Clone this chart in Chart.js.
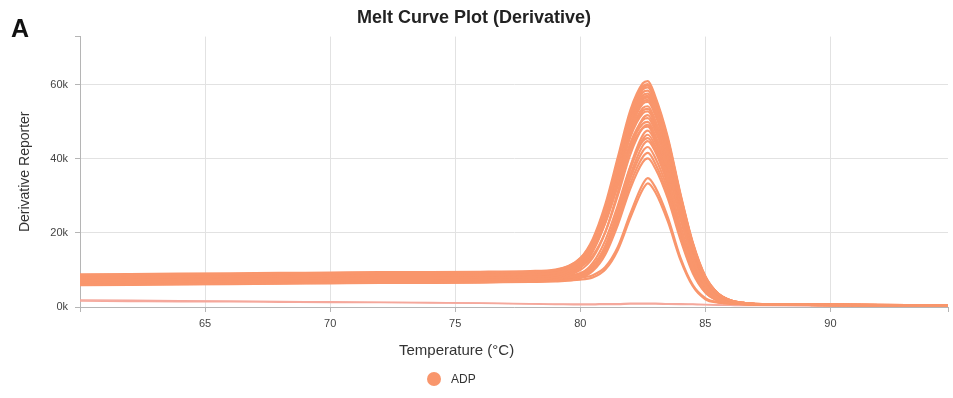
<!DOCTYPE html>
<html>
<head>
    <title>Melt Curve Plot (Derivative)</title>
    <meta charset="UTF-8">
    <style>
        body { margin: 0; background: #fff; font-family: "Liberation Sans", Arial, sans-serif; }
        .panel { position: relative; width: 953px; height: 398px; }
        .panel-letter { position: absolute; left: 11px; top: 14px; font-size: 25px; font-weight: bold; color: #111; }
        .x-title { position: absolute; left: 399px; top: 341px; font-size: 15px; color: #333; }
        .legend { position: absolute; left: 427px; top: 372px; font-size: 12px; color: #333; display: flex; align-items: center; }
        .legend .dot { width: 14px; height: 14px; border-radius: 50%; background: rgb(249,150,108); margin-right: 10px; }
    </style>
    <script src="https://cdn.jsdelivr.net/npm/chart.js@4.4.1/dist/chart.umd.min.js"></script>
</head>
<body>
    <div class="panel">
        <canvas id="melt" width="953" height="398"></canvas>
        <div class="panel-letter">A</div>
        <div class="x-title">Temperature (°C)</div>
        <div class="legend"><span class="dot"></span>ADP</div>
    </div>

    <script>
        // temperature grid (°C), denser around the melt peak
        const temps = [60, 62, 64, 66, 68, 70, 72, 74, 76, 78,
                       79, 80, 80.5, 81, 81.5, 82, 82.5, 82.7, 83, 83.5,
                       84, 84.5, 85, 85.5, 86, 86.5, 87, 89, 92, 94.7];

        // derivative reporter, thousands, one row per ADP well
        const adpWells = [
            [8.6,8.7,8.8,8.9,9.0,9.1,9.2,9.2,9.3,9.5, 9.9,13.2,18.4,27.7,40.4,53.1,60.4,61.0,56.8,45.8, 30.7,17.4,8.3,3.7,1.8,1.1,0.8,0.65,0.5,0.4],
            [7.9,8.0,8.1,8.2,8.3,8.4,8.5,8.5,8.6,8.8, 9.2,12.5,17.7,26.9,39.6,52.3,59.6,60.2,56.1,45.2, 30.4,17.1,8.2,3.7,1.8,1.1,0.8,0.65,0.5,0.4],
            [6.0,6.1,6.2,6.3,6.4,6.5,6.6,6.6,6.7,6.9, 7.3,10.7,16.1,25.5,38.6,51.6,59.2,59.8,56.0,45.1, 30.1,17.0,8.0,3.5,1.7,1.0,0.7,0.55,0.45,0.35],
            [7.2,7.3,7.4,7.5,7.6,7.7,7.8,7.8,7.9,8.1, 8.5,11.8,17.0,26.2,38.8,51.4,58.7,59.3,55.4,44.6, 29.9,16.9,8.0,3.7,1.8,1.1,0.8,0.6,0.5,0.4],
            [8.3,8.4,8.5,8.6,8.7,8.8,8.9,8.9,9.0,9.2, 9.6,12.8,17.7,26.6,38.7,50.8,57.9,58.4,54.4,43.8, 29.4,16.6,8.0,3.7,1.8,1.1,0.85,0.7,0.55,0.45],
            [6.7,6.8,6.9,7.0,7.1,7.2,7.3,7.3,7.4,7.6, 8.0,11.2,16.3,25.2,37.6,49.9,57.1,57.6,53.8,43.3, 29.1,16.3,7.7,3.5,1.7,1.0,0.7,0.6,0.45,0.35],
            [8.8,8.9,9.0,9.1,9.2,9.3,9.4,9.4,9.5,9.7, 10.1,13.1,17.9,26.4,38.1,49.7,56.5,57.0,53.0,42.8, 28.7,16.3,7.9,3.6,1.8,1.1,0.85,0.7,0.55,0.45],
            [7.7,7.8,7.9,8.0,8.1,8.2,8.3,8.3,8.4,8.6, 9.0,12.1,16.9,25.5,37.3,49.1,56.0,56.5,52.6,42.4, 28.5,16.0,7.6,3.5,1.7,1.1,0.8,0.65,0.5,0.4],
            [7.4,7.5,7.6,7.7,7.8,7.9,8.0,8.0,8.1,8.3, 8.7,11.7,16.6,25.1,36.8,48.6,55.4,55.9,52.1,42.0, 28.1,15.9,7.6,3.5,1.7,1.1,0.8,0.65,0.5,0.4],
            [6.3,6.4,6.5,6.6,6.7,6.8,6.9,6.9,7.0,7.2, 7.6,10.7,15.6,24.2,36.1,48.0,54.9,55.4,51.8,41.6, 27.9,15.7,7.5,3.3,1.6,1.0,0.7,0.55,0.45,0.35],
            [8.0,8.1,8.2,8.3,8.4,8.5,8.6,8.6,8.7,8.9, 9.3,12.2,16.8,24.9,36.1,47.2,53.7,54.2,50.4,40.6, 27.2,15.4,7.4,3.4,1.7,1.1,0.8,0.7,0.5,0.4],
            [6.4,6.5,6.6,6.7,6.8,6.9,7.0,7.0,7.1,7.3, 7.7,10.7,15.3,23.6,35.0,46.4,53.0,53.5,49.9,40.2, 26.9,15.2,7.2,3.2,1.6,1.0,0.7,0.55,0.45,0.35],
            [7.0,7.1,7.2,7.3,7.4,7.5,7.6,7.6,7.7,7.9, 8.3,11.2,15.7,23.8,34.8,45.9,52.3,52.8,49.2,39.6, 26.5,15.0,7.2,3.3,1.6,1.0,0.75,0.6,0.5,0.4],
            [7.1,7.2,7.3,7.4,7.5,7.6,7.7,7.7,7.8,8.0, 8.2,10.0,13.3,20.2,31.0,43.0,50.9,51.8,48.4,38.7, 25.1,13.3,5.9,2.6,1.3,0.9,0.75,0.6,0.5,0.4],
            [6.5,6.6,6.7,6.8,6.9,7.0,7.1,7.1,7.2,7.4, 7.8,10.6,15.0,22.8,33.6,44.3,50.5,51.0,47.5,38.3, 25.7,14.4,6.9,3.1,1.6,1.0,0.7,0.55,0.45,0.35],
            [7.8,7.9,8.0,8.1,8.2,8.3,8.4,8.4,8.5,8.7, 9.1,11.7,15.9,23.3,33.5,43.6,49.5,50.0,46.3,37.4, 25.1,14.3,6.9,3.2,1.6,1.1,0.8,0.65,0.5,0.4],
            [8.1,8.2,8.3,8.4,8.5,8.6,8.7,8.7,8.8,9.0, 9.2,10.8,13.9,20.2,30.1,41.2,48.4,49.2,45.8,36.6, 23.8,12.8,5.8,2.6,1.4,1.0,0.85,0.7,0.55,0.45],
            [7.5,7.6,7.7,7.8,7.9,8.0,8.1,8.1,8.2,8.4, 8.7,11.4,15.4,22.7,32.6,42.5,48.3,48.7,45.2,36.5, 24.5,13.9,6.7,3.1,1.6,1.0,0.8,0.65,0.5,0.4],
            [6.7,6.8,6.9,7.0,7.1,7.2,7.3,7.3,7.4,7.6, 7.7,8.7,11.0,16.5,26.1,37.9,46.4,47.6,44.6,35.0, 21.8,10.9,4.5,2.0,1.1,0.85,0.75,0.6,0.45,0.35],
            [6.9,7.0,7.1,7.2,7.3,7.4,7.5,7.5,7.6,7.8, 7.9,8.9,11.1,16.4,25.7,37.1,45.3,46.5,43.5,34.1, 21.3,10.7,4.5,2.0,1.1,0.85,0.75,0.6,0.45,0.35],
            [6.3,6.4,6.5,6.6,6.7,6.8,6.9,6.9,7.0,7.2, 7.4,8.9,11.9,18.0,27.4,37.9,44.8,45.6,42.6,33.9, 22.0,11.8,5.3,2.3,1.3,0.9,0.7,0.55,0.45,0.35],
            [6.1,6.2,6.3,6.4,6.5,6.6,6.7,6.7,6.8,7.0, 7.1,8.1,10.2,15.4,24.5,35.6,43.6,44.8,41.9,32.9, 20.5,10.2,4.2,1.9,1.0,0.8,0.7,0.55,0.45,0.35],
            [7.3,7.4,7.5,7.6,7.7,7.8,7.9,7.9,8.0,8.2, 8.3,9.2,11.2,16.0,24.4,34.7,42.1,43.2,40.2,31.6, 19.8,10.0,4.3,2.0,1.2,0.95,0.8,0.65,0.5,0.4],
            [6.6,6.7,6.8,6.9,7.0,7.1,7.2,7.2,7.3,7.5, 7.6,8.5,10.4,15.1,23.3,33.3,40.5,41.6,38.7,30.4, 19.0,9.6,4.0,1.8,1.1,0.85,0.7,0.55,0.45,0.35],
            [5.9,6.0,6.1,6.2,6.3,6.4,6.5,6.5,6.6,6.8, 6.9,7.8,9.7,14.2,22.2,32.0,39.1,40.1,37.4,29.3, 18.3,9.1,3.9,1.7,1.0,0.8,0.7,0.55,0.45,0.35],
            [6.8,6.9,7.0,7.1,7.2,7.3,7.4,7.4,7.5,7.7, 7.8,8.0,8.6,10.8,16.2,25.2,33.2,34.8,32.3,24.2, 13.4,5.9,2.4,1.3,0.9,0.85,0.75,0.6,0.45,0.35],
            [6.2,6.3,6.4,6.5,6.6,6.7,6.8,6.8,6.9,7.1, 7.2,7.4,8.0,10.1,15.4,24.1,31.8,33.4,31.0,23.1, 12.8,5.6,2.1,1.2,0.9,0.8,0.7,0.55,0.45,0.35]
        ];

        // no-template wells, flat near zero
        const ntcWells = [
            [1.9,1.8,1.7,1.6,1.5,1.4,1.3,1.2,1.1,0.9, 0.8,0.8,0.8,0.9,0.9,1.0,1.0,1.0,1.0,0.9, 0.9,0.8,0.7,0.6,0.5,0.5,0.45,0.4,0.3,0.25],
            [1.6,1.5,1.4,1.4,1.3,1.2,1.2,1.1,1.0,0.8, 0.7,0.6,0.6,0.7,0.7,0.8,0.8,0.8,0.8,0.75, 0.7,0.65,0.6,0.5,0.45,0.4,0.4,0.35,0.3,0.25]
        ];

        const xTickValues = [65, 70, 75, 80, 85, 90];
        const yTickValues = [0, 20, 40, 60];
        const yTickLabels = ['0k', '20k', '40k', '60k'];

        const X_MIN = 60, X_MAX = 94.7, Y_MAX = 73;
        const lineColor = 'rgb(249,150,108)';
        const ntcColor = 'rgb(245,168,156)';
        const gridColor = '#e2e2e2';
        const axisColor = '#b5b5b5';
        const fontFamily = '"Liberation Sans", Arial, sans-serif';

        function toPoints(values) {
            return temps.map((t, i) => ({ x: t, y: values[i] }));
        }

        const datasets = [];
        adpWells.forEach(w => datasets.push({
            label: 'ADP', data: toPoints(w), borderColor: lineColor, borderWidth: 2.2,
            pointRadius: 0, cubicInterpolationMode: 'monotone'
        }));
        ntcWells.forEach(w => datasets.push({
            label: 'ADP', data: toPoints(w), borderColor: ntcColor, borderWidth: 1.5,
            pointRadius: 0, cubicInterpolationMode: 'monotone'
        }));

        new Chart(document.getElementById('melt'), {
            type: 'line',
            data: { datasets },
            options: {
                responsive: false,
                animation: false,
                devicePixelRatio: 1,
                layout: { padding: { left: 0, right: 5, top: 0, bottom: 61 } },
                plugins: {
                    legend: { display: false },
                    tooltip: { enabled: false },
                    title: {
                        display: true,
                        text: 'Melt Curve Plot (Derivative)',
                        color: '#222',
                        font: { family: fontFamily, size: 18, weight: 'bold' },
                        padding: { top: 7, bottom: 8 }
                    }
                },
                scales: {
                    x: {
                        type: 'linear',
                        min: X_MIN,
                        max: X_MAX,
                        afterBuildTicks: s => { s.ticks = [X_MIN, ...xTickValues, X_MAX].map(v => ({ value: v })); },
                        afterFit: s => { s.height = 30; },
                        ticks: {
                            autoSkip: false,
                            maxRotation: 0,
                            padding: 5,
                            color: '#444',
                            font: { family: fontFamily, size: 11 },
                            callback: v => xTickValues.includes(v) ? String(v) : ''
                        },
                        grid: {
                            color: c => (c.tick && xTickValues.includes(c.tick.value)) ? gridColor : 'rgba(0,0,0,0)',
                            tickColor: axisColor,
                            tickLength: 5
                        },
                        border: { color: axisColor }
                    },
                    y: {
                        min: 0,
                        max: Y_MAX,
                        afterBuildTicks: s => { s.ticks = [...yTickValues, Y_MAX].map(v => ({ value: v })); },
                        afterFit: s => { s.width = 80; },
                        ticks: {
                            padding: 7,
                            color: '#444',
                            font: { family: fontFamily, size: 11 },
                            callback: v => {
                                const i = yTickValues.indexOf(v);
                                return i >= 0 ? yTickLabels[i] : '';
                            }
                        },
                        grid: {
                            color: c => (c.tick && c.tick.value !== Y_MAX) ? gridColor : 'rgba(0,0,0,0)',
                            tickColor: axisColor,
                            tickLength: 5
                        },
                        border: { color: axisColor },
                        title: {
                            display: true,
                            text: 'Derivative Reporter',
                            color: '#333',
                            font: { family: fontFamily, size: 14 },
                            padding: { top: 17, bottom: 0 }
                        }
                    }
                }
            }
        });
    </script>
</body>
</html>
